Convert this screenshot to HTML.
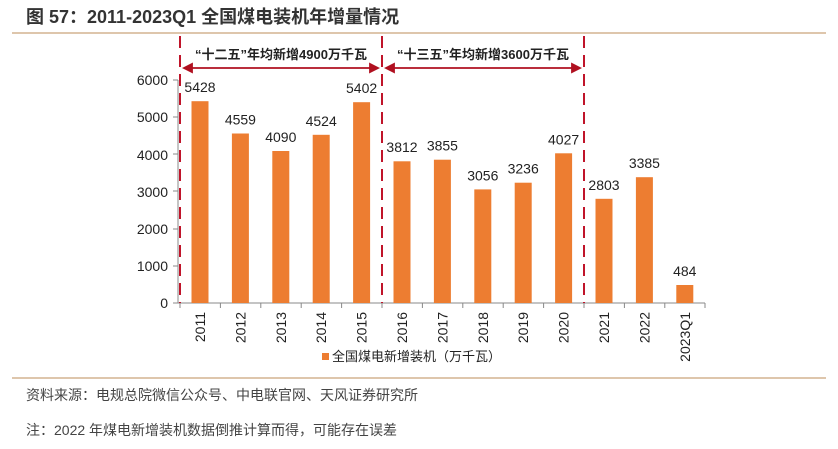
<!DOCTYPE html>
<html><head><meta charset="utf-8"><style>
body{margin:0;background:#fff;width:838px;height:444px;overflow:hidden}
</style></head><body>
<svg width="838" height="444" xmlns="http://www.w3.org/2000/svg" font-family="Liberation Sans, Noto Sans CJK SC, sans-serif">
<text x="26" y="23" font-size="18" font-weight="bold" fill="#333">图 57：2011-2023Q1 全国煤电装机年增量情况</text>
<line x1="12" y1="33" x2="826" y2="33" stroke="#c9a47a" stroke-width="1.2"/>
<line x1="12" y1="378" x2="826" y2="378" stroke="#c9a47a" stroke-width="1.2"/>
<g font-size="14" fill="#222" text-anchor="end">
<text x="168" y="85">6000</text><text x="168" y="122">5000</text><text x="168" y="160">4000</text>
<text x="168" y="197">3000</text><text x="168" y="234">2000</text><text x="168" y="271">1000</text><text x="168" y="308">0</text>
</g>
<g stroke="#888" stroke-width="1">
<line x1="178" y1="80" x2="178" y2="303"/>
<line x1="173" y1="80" x2="178" y2="80"/><line x1="173" y1="117" x2="178" y2="117"/><line x1="173" y1="154" x2="178" y2="154"/><line x1="173" y1="191" x2="178" y2="191"/><line x1="173" y1="229" x2="178" y2="229"/><line x1="173" y1="266" x2="178" y2="266"/>
<line x1="173" y1="303" x2="705" y2="303"/>
<line x1="180" y1="303" x2="180" y2="308"/><line x1="220.4" y1="303" x2="220.4" y2="308"/><line x1="260.8" y1="303" x2="260.8" y2="308"/><line x1="301.2" y1="303" x2="301.2" y2="308"/><line x1="341.6" y1="303" x2="341.6" y2="308"/><line x1="382" y1="303" x2="382" y2="308"/><line x1="422.4" y1="303" x2="422.4" y2="308"/><line x1="462.8" y1="303" x2="462.8" y2="308"/><line x1="503.2" y1="303" x2="503.2" y2="308"/><line x1="543.6" y1="303" x2="543.6" y2="308"/><line x1="584" y1="303" x2="584" y2="308"/><line x1="624.4" y1="303" x2="624.4" y2="308"/><line x1="664.8" y1="303" x2="664.8" y2="308"/><line x1="705" y1="303" x2="705" y2="308"/>
</g>
<g fill="#ED7D31">
<rect x="191.5" y="101.2" width="17" height="201.8"/>
<rect x="231.9" y="133.5" width="17" height="169.5"/>
<rect x="272.3" y="151" width="17" height="152"/>
<rect x="312.7" y="134.8" width="17" height="168.2"/>
<rect x="353.1" y="102.2" width="17" height="200.8"/>
<rect x="393.5" y="161.3" width="17" height="141.7"/>
<rect x="433.9" y="159.7" width="17" height="143.3"/>
<rect x="474.3" y="189.4" width="17" height="113.6"/>
<rect x="514.7" y="182.7" width="17" height="120.3"/>
<rect x="555.1" y="153.3" width="17" height="149.7"/>
<rect x="595.5" y="198.8" width="17" height="104.2"/>
<rect x="635.9" y="177.2" width="17" height="125.8"/>
<rect x="676.3" y="285" width="17" height="18"/>
</g>
<g font-size="14" fill="#222" text-anchor="middle">
<text x="200" y="92">5428</text>
<text x="240.4" y="124.5">4559</text>
<text x="280.8" y="142">4090</text>
<text x="321.2" y="126">4524</text>
<text x="361.6" y="93">5402</text>
<text x="402" y="152">3812</text>
<text x="442.4" y="150.7">3855</text>
<text x="482.8" y="180.4">3056</text>
<text x="523.2" y="173.7">3236</text>
<text x="563.6" y="144.3">4027</text>
<text x="604" y="189.8">2803</text>
<text x="644.4" y="168.2">3385</text>
<text x="684.8" y="276">484</text>
</g>
<g font-size="14" fill="#222" text-anchor="end">
<text transform="translate(205,312) rotate(-90)">2011</text>
<text transform="translate(245.4,312) rotate(-90)">2012</text>
<text transform="translate(285.8,312) rotate(-90)">2013</text>
<text transform="translate(326.2,312) rotate(-90)">2014</text>
<text transform="translate(366.6,312) rotate(-90)">2015</text>
<text transform="translate(407,312) rotate(-90)">2016</text>
<text transform="translate(447.4,312) rotate(-90)">2017</text>
<text transform="translate(487.8,312) rotate(-90)">2018</text>
<text transform="translate(528.2,312) rotate(-90)">2019</text>
<text transform="translate(568.6,312) rotate(-90)">2020</text>
<text transform="translate(609,312) rotate(-90)">2021</text>
<text transform="translate(649.4,312) rotate(-90)">2022</text>
<text transform="translate(689.8,312) rotate(-90)">2023Q1</text>
</g>
<g stroke="#c0142a" stroke-width="2" stroke-dasharray="12,7">
<line x1="180" y1="36" x2="180" y2="303"/><line x1="382" y1="36" x2="382" y2="303"/><line x1="584" y1="36" x2="584" y2="303"/>
</g>
<g stroke="#b01020" stroke-width="1.8" fill="#b01020">
<line x1="186" y1="68" x2="376" y2="68"/><polygon points="184,68 192,64 192,72"/><polygon points="378,68 370,64 370,72"/>
<line x1="388" y1="68" x2="578" y2="68"/><polygon points="386,68 394,64 394,72"/><polygon points="580,68 572,64 572,72"/>
</g>
<g font-size="13" font-weight="bold" fill="#222" text-anchor="middle">
<text x="281" y="59">“十二五”年均新增4900万千瓦</text>
<text x="483" y="59">“十三五”年均新增3600万千瓦</text>
</g>
<rect x="322" y="353" width="7" height="7" fill="#ED7D31"/>
<text x="332" y="361" font-size="13" fill="#222">全国煤电新增装机（万千瓦）</text>
<text x="26" y="400" font-size="14" fill="#444">资料来源：电规总院微信公众号、中电联官网、天风证券研究所</text>
<text x="26" y="435" font-size="14" fill="#444">注：2022 年煤电新增装机数据倒推计算而得，可能存在误差</text>
</svg>
</body></html>
